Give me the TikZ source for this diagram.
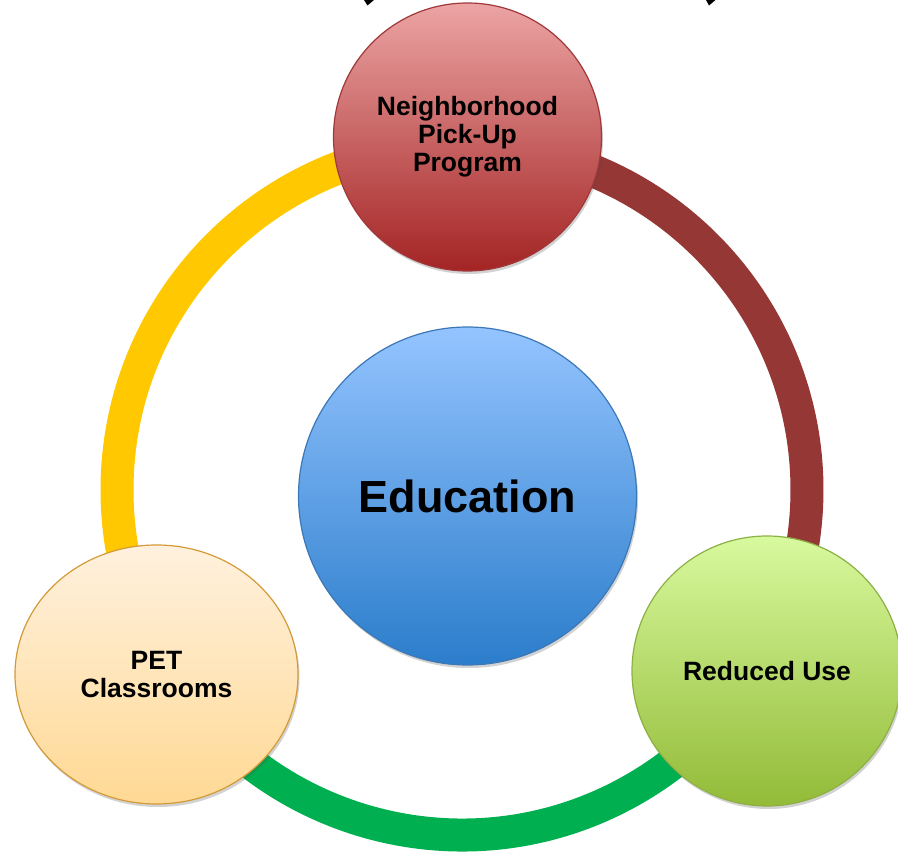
\documentclass[tikz,border=0pt]{standalone}
\usepackage{fontspec}
\setmainfont{Liberation Sans}
\usetikzlibrary{shapes.geometric,shadows,backgrounds,calc}

\definecolor{redtop}{RGB}{236,164,164}
\definecolor{redbot}{RGB}{164,36,36}
\definecolor{redline}{RGB}{160,56,58}
\definecolor{bluetop}{RGB}{148,196,255}
\definecolor{bluebot}{RGB}{43,125,203}
\definecolor{blueline}{RGB}{60,120,184}
\definecolor{greentop}{RGB}{216,249,158}
\definecolor{greenbot}{RGB}{147,187,56}
\definecolor{greenline}{RGB}{140,176,67}
\definecolor{pettop}{RGB}{255,241,222}
\definecolor{petbot}{RGB}{255,217,148}
\definecolor{petline}{RGB}{210,154,56}
\definecolor{arcyellow}{RGB}{255,200,0}
\definecolor{arcred}{RGB}{149,55,53}
\definecolor{arcgreen}{RGB}{0,176,80}

\begin{document}
\begin{tikzpicture}[x=1pt, y=1pt,
  bubble/.style={circle, inner sep=0pt, line width=1.2pt, shading=axis,
    drop shadow={shadow xshift=1.5pt, shadow yshift=-3pt, opacity=0.25, fill=black!70}},
  bubbletext/.style={align=center, font=\fontsize{26.5}{28}\selectfont\bfseries},
  ringarc/.style={line width=33pt}]

  \newcommand\RING{345pt};

  \useasboundingbox (0,0) rectangle (898,852);
  \coordinate (hub) at (462,362);

  % the four bubbles
  \node[bubble, bubbletext, minimum size=268pt, draw=redline,
    top color=redtop, bottom color=redbot] (pickup) at (467.5,715)
    {Neighborhood\\Pick-Up\\Program};
  \node[bubble, minimum size=338pt, draw=blueline,
    top color=bluetop, bottom color=bluebot,
    font=\fontsize{45}{50}\selectfont\bfseries] (edu) at (467.5,356)
    {Education};
  \node[bubble, bubbletext, minimum size=270pt, draw=greenline,
    top color=greentop, bottom color=greenbot] (reduced) at (767,181)
    {Reduced Use};
  \node[bubble, bubbletext, ellipse, minimum width=283pt, minimum height=259pt,
    draw=petline, top color=pettop, bottom color=petbot] (pet) at (156.5,177.5)
    {PET\\Classrooms};

  % ring pieces between the bubbles
  \begin{scope}[on background layer]
    \draw[ringarc, draw=arcyellow]
      let \p1=($(pickup)-(hub)$), \p2=($(pet)-(hub)$),
          \n1={atan2(\y1,\x1)}, \n2={atan2(\y2,\x2)+360} in
      ($(hub)+(\n1:\RING)$) arc[start angle=\n1, end angle=\n2, radius=\RING];
    \draw[ringarc, draw=arcred]
      let \p1=($(pickup)-(hub)$), \p2=($(reduced)-(hub)$),
          \n1={atan2(\y1,\x1)}, \n2={atan2(\y2,\x2)} in
      ($(hub)+(\n1:\RING)$) arc[start angle=\n1, end angle=\n2, radius=\RING];
    \draw[ringarc, draw=arcgreen]
      let \p1=($(pet)-(hub)$), \p2=($(reduced)-(hub)$),
          \n1={atan2(\y1,\x1)}, \n2={atan2(\y2,\x2)} in
      ($(hub)+(\n1:\RING)$) arc[start angle=\n1, end angle=\n2, radius=\RING];
  \end{scope}

  % cut-off black tips at the top edge
  \fill (364,852) -- (374,852) .. controls (371,849) .. (367.5,846.5) -- cycle;
  \fill (706,852) -- (715.5,852) .. controls (712.5,849) .. (709,846.5) -- cycle;

\end{tikzpicture}
\end{document}
